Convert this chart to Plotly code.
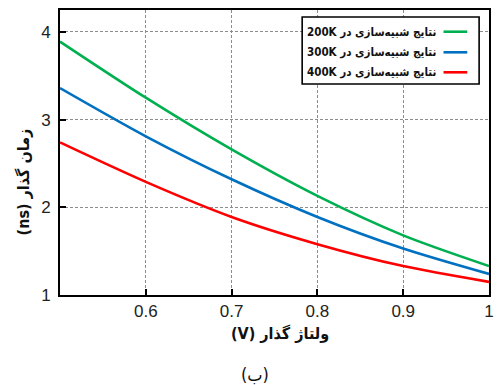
import plotly.graph_objects as go

voltage = [0.5, 0.6, 0.7, 0.8, 0.9, 1.0]
t_200K = [3.89, 3.25, 2.66, 2.13, 1.68, 1.33]
t_300K = [3.36, 2.81, 2.32, 1.89, 1.53, 1.24]
t_400K = [2.74, 2.29, 1.89, 1.58, 1.33, 1.15]

series_names = ["نتایج شبیه‌سازی در 200K", "نتایج شبیه‌سازی در 300K", "نتایج شبیه‌سازی در 400K"]
series_values = [t_200K, t_300K, t_400K]
colors = ["#00B050", "#0070C0", "#FF0000"]

x_ticks = [0.6, 0.7, 0.8, 0.9, 1.0]
x_ticklabels = ["0.6", "0.7", "0.8", "0.9", "1"]
y_ticks = [1, 2, 3, 4]

x_title = "ولتاژ گذار (V)"
y_title = "زمان گذار (ns)"
caption = "(ب)"

RLE, PDF = "\u202b", "\u202c"
def rtl(s):
    return RLE + s + PDF

W, H = 498, 385
L, R, T, B = 60, 4, 10, 90
pw, ph = W - L - R, H - T - B

def px(xp):
    return (xp - L) / pw

def py(yp):
    return (H - B - yp) / ph

fig = go.Figure()
for name, vals, c in zip(series_names, series_values, colors):
    fig.add_trace(go.Scatter(x=voltage, y=vals, mode="lines", name=name,
                             line=dict(color=c, width=2.6, shape="spline", smoothing=0.8),
                             showlegend=False))

tick_font = dict(family="Liberation Sans, Arial, sans-serif", size=17, color="#222")
fig.update_xaxes(range=[0.5, 1.0], tickvals=x_ticks, ticktext=x_ticklabels,
                 showgrid=True, gridcolor="#8c8c8c", griddash="3px,2px", gridwidth=1.3,
                 showline=True, linecolor="black", linewidth=2, mirror=True,
                 ticks="inside", ticklen=6, tickwidth=2, tickcolor="black",
                 tickfont=tick_font, ticklabelstandoff=0, zeroline=False)
fig.update_yaxes(range=[1.0, 4.25], tickvals=y_ticks,
                 showgrid=True, gridcolor="#8c8c8c", griddash="3px,2px", gridwidth=1.3,
                 showline=True, linecolor="black", linewidth=2, mirror=True,
                 ticks="inside", ticklen=6, tickwidth=2, tickcolor="black",
                 tickfont=tick_font, ticklabelstandoff=4, zeroline=False)

ar_font = "DejaVu Sans Condensed, DejaVu Sans, sans-serif"
annotations = [
    dict(text="<b>" + rtl(x_title) + "</b>", x=px(283), y=py(333), xref="paper", yref="paper",
         showarrow=False, font=dict(family=ar_font, size=16, color="#111"), xanchor="center", yanchor="middle"),
    dict(text="<b>" + rtl(y_title) + "</b>", x=px(23), y=py(182), xref="paper", yref="paper",
         showarrow=False, textangle=-90, font=dict(family=ar_font, size=16, color="#111"),
         xanchor="center", yanchor="middle"),
    dict(text=rtl(caption), x=px(257), y=py(374), xref="paper", yref="paper",
         showarrow=False, font=dict(family=ar_font, size=18, color="#111"), xanchor="center", yanchor="middle"),
]

shapes = [dict(type="rect", xref="paper", yref="paper", x0=px(305), x1=px(484), y0=py(84), y1=py(17),
               line=dict(color="black", width=1.6), fillcolor="white", layer="above")]
row_y = [31.7, 52.3, 72.3]
for name, c, ry in zip(series_names, colors, row_y):
    shapes.append(dict(type="line", xref="paper", yref="paper", x0=px(448), x1=px(472),
                       y0=py(ry), y1=py(ry), line=dict(color=c, width=2.6), layer="above"))
    annotations.append(dict(text="<b>" + rtl(name) + "</b>", x=px(443), y=py(ry), xref="paper", yref="paper",
                            showarrow=False, xanchor="right", yanchor="middle",
                            font=dict(family=ar_font, size=11.5, color="#111")))

fig.update_layout(width=W, height=H, margin=dict(l=L, r=R, t=T, b=B),
                  plot_bgcolor="white", paper_bgcolor="white",
                  shapes=shapes, annotations=annotations)

fig.write_html("out.html", config={"displayModeBar": False},
               post_script="document.body.style.margin='0';document.body.style.overflow='hidden';")
